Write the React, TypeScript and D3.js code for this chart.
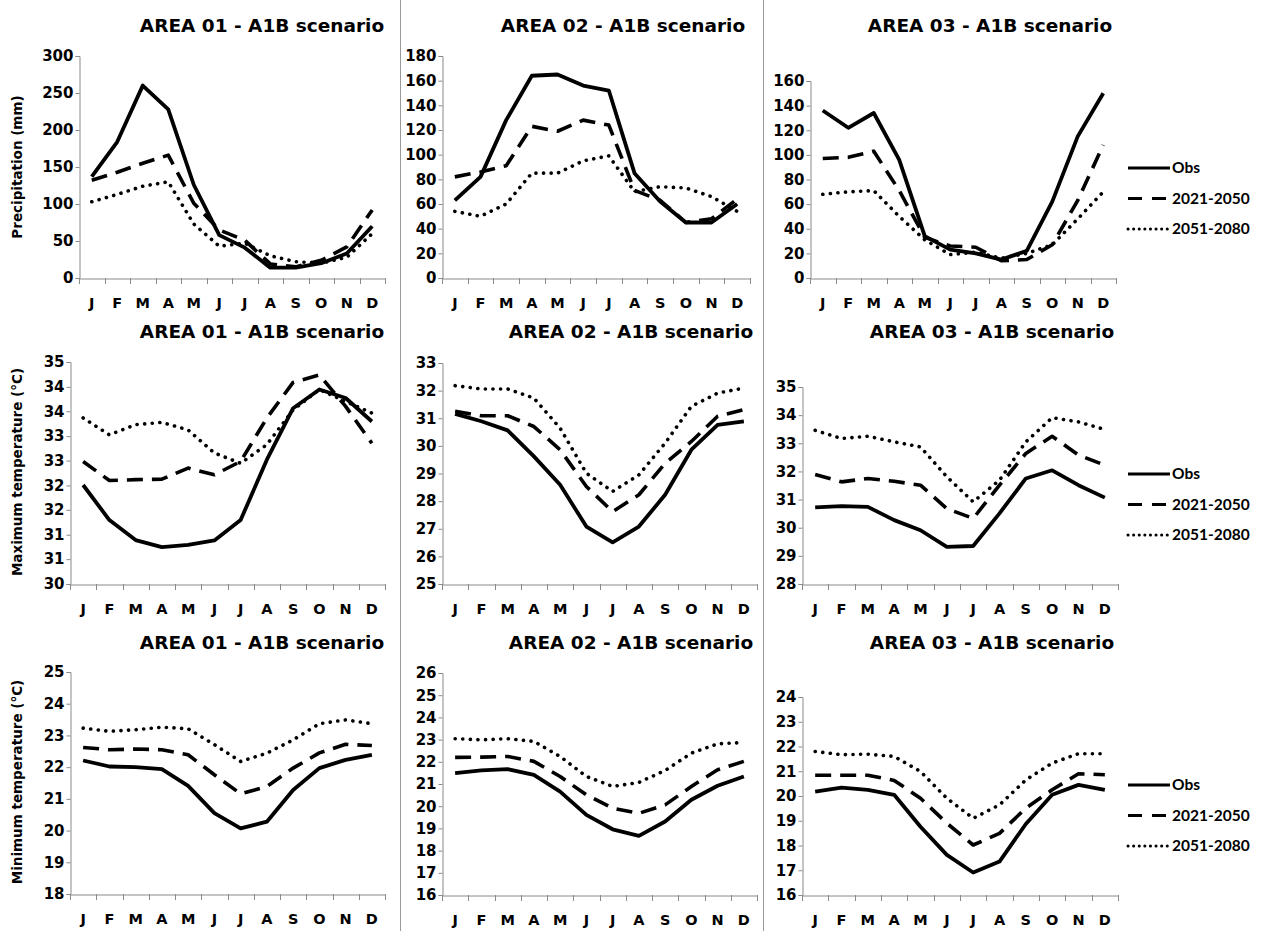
import React, { useEffect, useRef } from "react";
import * as d3 from "d3";

const months = ["J", "F", "M", "A", "M", "J", "J", "A", "S", "O", "N", "D"];
const seriesNames = ["Obs", "2021-2050", "2051-2080"];

// precipitation (mm)
const precObs01 = [137, 184, 260, 228, 126, 58, 41, 14, 14, 20, 33, 70];
const precNear01 = [132, 143, 155, 166, 101, 65, 51, 19, 15, 24, 42, 92];
const precFar01 = [103, 113, 124, 130, 73, 43, 47, 30, 22, 20, 28, 60];
const precObs02 = [63, 82, 128, 164, 165, 156, 152, 85, 62, 45, 45, 60];
const precNear02 = [82, 86, 91, 123, 119, 128, 124, 71, 63, 45, 48, 64];
const precFar02 = [54, 50, 60, 85, 85, 95, 99, 70, 74, 73, 66, 54];
const precObs03 = [136, 122, 134, 96, 34, 23, 20, 15, 22, 62, 115, 150];
const precNear03 = [97, 98, 103, 71, 33, 26, 25, 14, 15, 27, 63, 108];
const precFar03 = [68, 70, 71, 50, 31, 19, 21, 16, 20, 27, 48, 70];

// maximum temperature (°C)
const tmaxObs01 = [32.23, 31.44, 30.99, 30.83, 30.88, 30.98, 31.44, 32.8, 33.96, 34.38, 34.19, 33.66];
const tmaxNear01 = [32.76, 32.33, 32.35, 32.36, 32.61, 32.46, 32.76, 33.74, 34.54, 34.71, 34.0, 33.17];
const tmaxFar01 = [33.74, 33.36, 33.59, 33.64, 33.47, 32.95, 32.72, 33.14, 33.92, 34.38, 34.11, 33.85];
const tmaxObs02 = [31.16, 30.89, 30.56, 29.62, 28.59, 27.08, 26.51, 27.08, 28.23, 29.86, 30.76, 30.89];
const tmaxNear02 = [31.25, 31.09, 31.09, 30.7, 29.86, 28.53, 27.62, 28.23, 29.37, 30.16, 31.07, 31.31];
const tmaxFar02 = [32.18, 32.06, 32.06, 31.73, 30.64, 29.01, 28.35, 28.95, 30.1, 31.43, 31.91, 32.09];
const tmaxObs03 = [30.72, 30.77, 30.74, 30.27, 29.91, 29.32, 29.35, 30.51, 31.75, 32.04, 31.51, 31.07];
const tmaxNear03 = [31.89, 31.63, 31.75, 31.65, 31.51, 30.68, 30.33, 31.51, 32.64, 33.25, 32.58, 32.22];
const tmaxFar03 = [33.46, 33.17, 33.25, 33.05, 32.87, 31.81, 30.92, 31.69, 33.05, 33.91, 33.76, 33.49];

// minimum temperature (°C)
const tminObs01 = [22.21, 22.02, 22.0, 21.94, 21.41, 20.55, 20.07, 20.28, 21.28, 21.97, 22.23, 22.39];
const tminNear01 = [22.62, 22.55, 22.57, 22.55, 22.39, 21.76, 21.16, 21.39, 21.97, 22.45, 22.72, 22.68];
const tminFar01 = [23.23, 23.13, 23.18, 23.26, 23.21, 22.71, 22.18, 22.44, 22.86, 23.37, 23.49, 23.37];
const tminObs02 = [21.49, 21.61, 21.67, 21.41, 20.66, 19.61, 18.96, 18.66, 19.31, 20.29, 20.92, 21.34];
const tminNear02 = [22.2, 22.21, 22.24, 22.02, 21.34, 20.51, 19.91, 19.68, 20.06, 20.89, 21.64, 22.02];
const tminFar02 = [23.04, 22.99, 23.04, 22.92, 22.24, 21.34, 20.89, 21.07, 21.61, 22.39, 22.81, 22.87];
const tminObs03 = [20.18, 20.34, 20.25, 20.05, 18.76, 17.62, 16.91, 17.35, 18.87, 20.05, 20.45, 20.25];
const tminNear03 = [20.84, 20.84, 20.84, 20.63, 19.91, 18.9, 18.02, 18.49, 19.51, 20.25, 20.9, 20.86];
const tminFar03 = [21.8, 21.67, 21.69, 21.6, 20.99, 19.91, 19.1, 19.64, 20.65, 21.33, 21.71, 21.71];

// y tick values
const precTicks01 = [0, 50, 100, 150, 200, 250, 300];
const precTicks02 = [0, 20, 40, 60, 80, 100, 120, 140, 160, 180];
const precTicks03 = [0, 20, 40, 60, 80, 100, 120, 140, 160];
const tmaxTicks01 = [30, 30.56, 31.11, 31.67, 32.22, 32.78, 33.33, 33.89, 34.44, 35];
const tmaxTicks02 = [25, 26, 27, 28, 29, 30, 31, 32, 33];
const tmaxTicks03 = [28, 29, 30, 31, 32, 33, 34, 35];
const tminTicks01 = [18, 19, 20, 21, 22, 23, 24, 25];
const tminTicks02 = [16, 17, 18, 19, 20, 21, 22, 23, 24, 25, 26];
const tminTicks03 = [16, 17, 18, 19, 20, 21, 22, 23, 24];

const yLabels = ["Precipitation (mm)", "Maximum temperature (°C)", "Minimum temperature (°C)"];

const panels = [
  { row: 0, title: "AREA 01 - A1B scenario", x0: 79, x1: 385, yTop: 56, yBot: 278, ticks: precTicks01, series: [precObs01, precNear01, precFar01], tx: 262 },
  { row: 0, title: "AREA 02 - A1B scenario", x0: 442, x1: 750, yTop: 56, yBot: 278, ticks: precTicks02, series: [precObs02, precNear02, precFar02], tx: 623 },
  { row: 0, title: "AREA 03 - A1B scenario", x0: 810, x1: 1116, yTop: 81, yBot: 278, ticks: precTicks03, series: [precObs03, precNear03, precFar03], tx: 990 },
  { row: 1, title: "AREA 01 - A1B scenario", x0: 70, x1: 385, yTop: 362, yBot: 584, ticks: tmaxTicks01, series: [tmaxObs01, tmaxNear01, tmaxFar01], tx: 262 },
  { row: 1, title: "AREA 02 - A1B scenario", x0: 442, x1: 757, yTop: 363, yBot: 584, ticks: tmaxTicks02, series: [tmaxObs02, tmaxNear02, tmaxFar02], tx: 631 },
  { row: 1, title: "AREA 03 - A1B scenario", x0: 802, x1: 1118, yTop: 387, yBot: 584, ticks: tmaxTicks03, series: [tmaxObs03, tmaxNear03, tmaxFar03], tx: 992 },
  { row: 2, title: "AREA 01 - A1B scenario", x0: 70, x1: 385, yTop: 672, yBot: 894, ticks: tminTicks01, series: [tminObs01, tminNear01, tminFar01], tx: 262 },
  { row: 2, title: "AREA 02 - A1B scenario", x0: 442, x1: 757, yTop: 673, yBot: 895, ticks: tminTicks02, series: [tminObs02, tminNear02, tminFar02], tx: 631 },
  { row: 2, title: "AREA 03 - A1B scenario", x0: 802, x1: 1118, yTop: 697, yBot: 895, ticks: tminTicks03, series: [tminObs03, tminNear03, tminFar03], tx: 992 },
];

const rowTitleY = [32, 338, 649];
const rowLabelY = [167, 472, 782];
const rowLegendY = [168, 474, 785];

const lineStyles = [
  { dash: null, cap: "butt", w: 3.8 },
  { dash: "16,9", cap: "butt", w: 3.6 },
  { dash: "0.1,7.5", cap: "round", w: 3.6 },
];
const legendDash = [null, "14,10", "0.1,5.5"];

const FONT = "'DejaVu Sans', sans-serif";
const AXIS = "#8a8a8a";

export default function App() {
  const ref = useRef<SVGSVGElement>(null);

  useEffect(() => {
    const svg = d3.select(ref.current);
    svg.selectAll("*").remove();

    svg.append("rect").attr("width", 1261).attr("height", 931).attr("fill", "#fff");

    // vertical separators
    [400, 763].forEach((sx) => {
      svg.append("line").attr("x1", sx + 0.5).attr("x2", sx + 0.5).attr("y1", 0).attr("y2", 931)
        .attr("stroke", "#9a9a9a").attr("stroke-width", 1);
    });

    panels.forEach((p) => {
      const g = svg.append("g");
      const x = d3.scaleBand<number>().domain(d3.range(12)).range([p.x0, p.x1]);
      const y = d3.scaleLinear().domain([p.ticks[0], p.ticks[p.ticks.length - 1]]).range([p.yBot, p.yTop]);
      const fmt = d3.format(".0f");

      // y axis
      const ya = g.append("g").attr("transform", `translate(${p.x0 + 0.5},0)`)
        .call(d3.axisLeft(y).tickValues(p.ticks).tickSize(4).tickPadding(2).tickFormat((d) => fmt(d as number)));
      ya.selectAll("path, line").attr("stroke", AXIS);
      ya.selectAll("text").attr("font-family", FONT).attr("font-weight", "bold").attr("font-size", 15).attr("fill", "#000");

      // x axis
      const xa = g.append("g").attr("transform", `translate(0,${p.yBot + 0.5})`)
        .call(d3.axisBottom(x).tickSize(0).tickPadding(19).tickFormat((i) => months[i as number]));
      xa.select("path").attr("stroke", AXIS);
      xa.selectAll("text").attr("font-family", FONT).attr("font-weight", "bold").attr("font-size", 14.5).attr("fill", "#000");
      g.selectAll(".bnd").data(d3.range(13)).join("line").attr("class", "bnd")
        .attr("x1", (i) => Math.round(p.x0 + i * x.step()) + 0.5)
        .attr("x2", (i) => Math.round(p.x0 + i * x.step()) + 0.5)
        .attr("y1", p.yBot).attr("y2", p.yBot + 6)
        .attr("stroke", AXIS);

      // series lines
      const line = d3.line<number>()
        .x((_, i) => (x(i) as number) + x.bandwidth() / 2)
        .y((d) => y(d));
      p.series.forEach((s, k) => {
        g.append("path").datum(s).attr("d", line)
          .attr("fill", "none").attr("stroke", "#000").attr("stroke-width", lineStyles[k].w)
          .attr("stroke-linejoin", "round")
          .attr("stroke-linecap", lineStyles[k].cap)
          .attr("stroke-dasharray", lineStyles[k].dash);
      });

      // title
      g.append("text").attr("x", p.tx).attr("y", rowTitleY[p.row]).attr("text-anchor", "middle")
        .attr("font-family", FONT).attr("font-weight", "bold").attr("font-size", 18.5)
        .text(p.title);
    });

    // y axis labels
    yLabels.forEach((t, r) => {
      svg.append("text").attr("transform", `translate(22,${rowLabelY[r]}) rotate(-90)`)
        .attr("text-anchor", "middle").attr("font-family", FONT).attr("font-weight", "bold")
        .attr("font-size", 13.5).text(t);
    });

    // legends
    rowLegendY.forEach((ly) => {
      const lg = svg.append("g");
      seriesNames.forEach((name, k) => {
        const yy = ly + k * 30.5;
        lg.append("line").attr("x1", 1128).attr("x2", 1170).attr("y1", yy).attr("y2", yy)
          .attr("stroke", "#000").attr("stroke-width", 3)
          .attr("stroke-linecap", k === 2 ? "round" : "butt")
          .attr("stroke-dasharray", legendDash[k]);
        lg.append("text").attr("x", 1172).attr("y", yy + 5).attr("font-family", "Lato, sans-serif")
          .attr("font-weight", "bold").attr("font-size", 15.5).text(name);
      });
    });
  }, []);

  return (
    <svg ref={ref} width={1261} height={931} style={{ position: "absolute", left: 0, top: 0 }} />
  );
}
